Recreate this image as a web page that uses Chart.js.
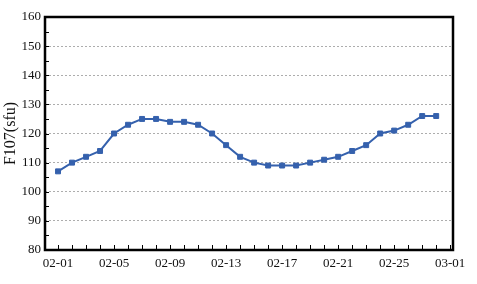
<!DOCTYPE html>
<html>
<head>
<meta charset="utf-8">
<script src="https://cdn.jsdelivr.net/npm/chart.js@4/dist/chart.umd.min.js"></script>
<style>
  html, body { margin: 0; padding: 0; background: #fff; }
  #wrap { width: 477px; height: 284px; }
</style>
</head>
<body>
<div id="wrap"><canvas id="chart"></canvas></div>
<script>
// daily F10.7 values, 02-01 .. 02-28
const dates = ['02-01','02-02','02-03','02-04','02-05','02-06','02-07','02-08','02-09','02-10',
               '02-11','02-12','02-13','02-14','02-15','02-16','02-17','02-18','02-19','02-20',
               '02-21','02-22','02-23','02-24','02-25','02-26','02-27','02-28'];
const f107 = [107, 110, 112, 114, 120, 123, 125, 125, 124, 124,
              123, 120, 116, 112, 110, 109, 109, 109, 110, 111,
              112, 114, 116, 120, 121, 123, 126, 126];
const xTickLabels = ['02-01','02-05','02-09','02-13','02-17','02-21','02-25','03-01'];
const yTicks = [80, 90, 100, 110, 120, 130, 140, 150, 160];

const serif = '"Liberation Serif", "DejaVu Serif", serif';

document.addEventListener('DOMContentLoaded', function() {

    // inward ticks + black frame around the plot
    const frame = {
        id: 'frame',
        afterDraw(chart) {
            const { ctx, chartArea: a, scales: { x, y } } = chart;
            ctx.save();
            ctx.strokeStyle = '#000';
            ctx.lineWidth = 1;
            ctx.beginPath();
            for (let d = 0; d <= 28; d++) {
                const px = Math.round(x.getPixelForValue(d)) + 0.5;
                ctx.moveTo(px, a.bottom);
                ctx.lineTo(px, a.bottom - 5);
            }
            for (let v = 85; v < 160; v += 5) {
                const py = Math.round(y.getPixelForValue(v)) + 0.5;
                ctx.moveTo(a.left, py);
                ctx.lineTo(a.left + 4, py);
            }
            ctx.stroke();
            ctx.lineWidth = 2.5;
            ctx.strokeRect(a.left, a.top, a.right - a.left, a.bottom - a.top);
            ctx.restore();
        }
    };

    const ctx = document.getElementById('chart').getContext('2d');
    new Chart(ctx, {
        type: 'line',
        data: {
            datasets: [{
                data: f107.map((v, i) => ({ x: i, y: v })),
                borderColor: '#3561ad',
                backgroundColor: '#3561ad',
                borderWidth: 2,
                pointStyle: 'rect',
                pointRadius: 3.5,
                pointBorderWidth: 1,
                fill: false,
                tension: 0
            }]
        },
        options: {
            responsive: true,
            maintainAspectRatio: false,
            animation: false,
            layout: { padding: { top: 17, right: 24, left: 0, bottom: 0 } },
            plugins: { legend: { display: false }, tooltip: { enabled: false } },
            scales: {
                x: {
                    type: 'linear',
                    min: -0.93,
                    max: 28.2,
                    afterBuildTicks: s => { s.ticks = xTickLabels.map((_, i) => ({ value: i * 4 })); },
                    afterFit: s => { s.height = 34; },
                    ticks: {
                        autoSkip: false,
                        maxRotation: 0,
                        padding: 6,
                        color: '#111',
                        font: { family: serif, size: 13 },
                        callback: v => xTickLabels[v / 4]
                    },
                    grid: { display: false, drawTicks: false },
                    border: { display: false }
                },
                y: {
                    min: 80,
                    max: 160,
                    afterBuildTicks: s => { s.ticks = yTicks.map(v => ({ value: v })); },
                    afterFit: s => { s.width = 45; },
                    ticks: {
                        padding: 4,
                        color: '#111',
                        font: { family: serif, size: 13 }
                    },
                    grid: {
                        drawTicks: false,
                        lineWidth: 1,
                        color: c => (c.tick.value === 80 || c.tick.value === 160) ? 'rgba(0,0,0,0)' : '#adadad'
                    },
                    border: { display: false, dash: [2, 2] },
                    title: {
                        display: true,
                        text: 'F107(sfu)',
                        color: '#111',
                        padding: { top: 1, bottom: 0 },
                        font: { family: serif, size: 16 }
                    }
                }
            }
        },
        plugins: [frame]
    });
});
</script>
</body>
</html>
